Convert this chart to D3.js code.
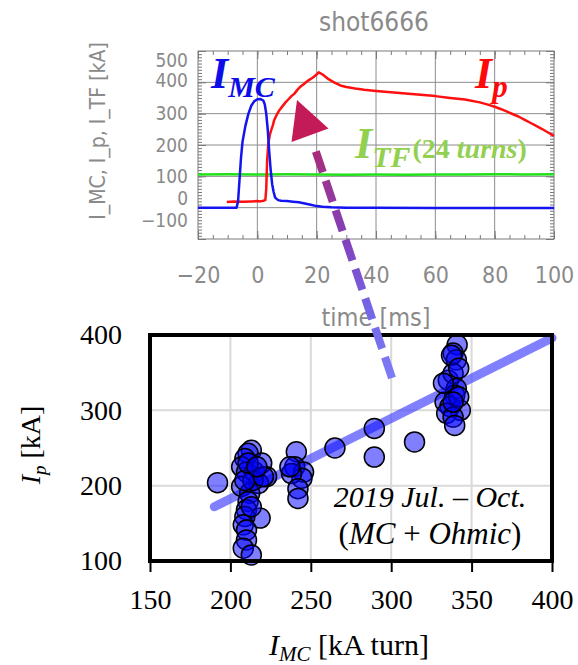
<!DOCTYPE html>
<html>
<head>
<meta charset="utf-8">
<script src="https://cdn.jsdelivr.net/npm/d3@7"></script>
<style>
  body { margin: 0; background: #fff; }
  svg { display: block; }
</style>
</head>
<body>
<script>
// ---- top panel: waveforms of shot 6666 ----
var tMC = [-20, -10, -7, -6.5, -6, -5.5, -5, -4, -3, -2, -1, 0, 1, 2, 2.5, 3, 3.5, 4, 4.5, 5, 5.5, 6, 7, 8, 10, 12, 14, 16, 18, 20, 22, 25, 30, 40, 60, 80, 100];
var vMC = [0, 0, 0, 20, 90, 160, 210, 262, 300, 326, 340, 346, 347, 342, 330, 300, 250, 180, 120, 75, 50, 32, 24, 22, 21, 19, 17, 13, 9, 5, 3, 1, 0, 0, -1, -1, -1];

var tIp = [-10.3, -8, -5, -2, 0, 1, 2, 2.7, 3, 3.3, 3.7, 4.2, 4.7, 5.2, 5.7, 6.5, 7.5, 8.5, 9.5, 10.5, 11.5, 12.5, 13.5, 14.5, 15.5, 16.5, 17.5, 18.5, 19.5, 20.7, 22, 24, 26, 28, 30, 33, 36, 40, 45, 50, 55, 60, 65, 70, 75, 78, 80, 82, 84, 86, 88, 90, 92, 94, 96, 98, 100];
var vIp = [18, 20, 19, 20, 21, 20, 22, 24, 60, 150, 205, 232, 248, 262, 280, 296, 312, 324, 336, 346, 356, 364, 376, 386, 393, 401, 408, 414, 421, 432, 425, 410, 399, 390, 385, 380, 376, 372, 368, 364, 360, 356, 350, 345, 336, 328, 322, 315, 307, 299, 291, 281, 271, 261, 251, 240, 229];

var tTF = [-20, -10, 0, 10, 20, 30, 40, 50, 60, 70, 80, 90, 100];
var vTF = [106, 107, 106, 107, 106, 105, 106, 105, 106, 106, 107, 106, 107];

var topXTicks = [-20, 0, 20, 40, 60, 80, 100];
var topYTicks = [-100, 0, 100, 200, 300, 400, 500];

// ---- bottom panel: Ip vs IMC, 2019 Jul. - Oct. ----
var imc = [192, 213, 211, 209, 207, 210, 215, 219.5, 222.5, 217.5, 207, 212, 211, 210, 218.5, 209, 208, 210, 210, 208, 213, 214, 209, 220.5, 211, 216.5, 213,
           241, 240, 245.5, 244.5, 238, 242, 242, 237,
           341, 338.5, 340.5, 337.5, 335.5, 338.5, 340.5, 339.5, 333.5, 336.5, 343, 334.5, 338.5, 339.5, 342, 342, 332.5, 338.5,
           265, 289.5, 289.5, 314.5];
var ipv = [204, 247, 243, 236, 225, 218, 218, 230, 212, 203, 199, 190, 179, 168, 157, 159, 148, 141, 128, 117, 108, 207, 207, 212, 230, 225, 172,
           245, 225, 218, 210, 216, 196, 183, 225,
           387, 376, 367, 373, 340, 349, 329, 320, 311, 305, 300, 296, 291, 280, 318, 356, 336, 311,
           250, 276, 238, 258];
var fitX = [190, 400];
var fitY = [172, 396];

var botXTicks = [150, 200, 250, 300, 350, 400];
var botYTicks = [100, 200, 300, 400];

var W = 578, H = 665;
var svg = d3.select("body").append("svg").attr("width", W).attr("height", H);

var grayTxt = "#8a8a8a", grayLine = "#7a7a7a";
var sansFont = "'DejaVu Sans Condensed', 'DejaVu Sans', 'Liberation Sans', sans-serif";
var serifFont = "'Liberation Serif', 'Times New Roman', 'DejaVu Serif', serif";

// scales
var x1 = d3.scaleLinear().domain([-20, 100]).range([198, 554]);
var y1 = d3.scaleLinear().domain([-100, 500]).range([239, 51]);
var x2 = d3.scaleLinear().domain([150, 400]).range([150, 552]);
var y2 = d3.scaleLinear().domain([100, 400]).range([561, 335]);

// ================= top panel =================
var topG = svg.append("g");

// grid
topG.append("g").selectAll("line").data(topXTicks.slice(1, -1)).enter().append("line")
    .attr("x1", function(d) { return x1(d); }).attr("x2", function(d) { return x1(d); })
    .attr("y1", y1(500)).attr("y2", y1(-100))
    .attr("stroke", "#8c8c8c").attr("stroke-width", 1);
topG.append("g").selectAll("line").data(topYTicks.slice(1, -1)).enter().append("line")
    .attr("x1", x1(-20)).attr("x2", x1(100))
    .attr("y1", function(d) { return y1(d); }).attr("y2", function(d) { return y1(d); })
    .attr("stroke", "#8c8c8c").attr("stroke-width", 1);

// minor + major ticks (inside the frame)
function styleAxis(g) {
  g.select(".domain").remove();
  g.selectAll(".tick line").attr("stroke", grayLine).attr("stroke-width", 1);
}
topG.append("g").attr("transform", "translate(0," + y1(-100) + ")")
    .call(d3.axisBottom(x1).tickValues(d3.range(-20, 101, 5)).tickSize(-4).tickFormat(""))
    .call(styleAxis);
topG.append("g").attr("transform", "translate(0," + y1(500) + ")")
    .call(d3.axisTop(x1).tickValues(d3.range(-20, 101, 5)).tickSize(-4).tickFormat(""))
    .call(styleAxis);
topG.append("g").attr("transform", "translate(" + x1(-20) + ",0)")
    .call(d3.axisLeft(y1).tickValues(d3.range(-100, 501, 10)).tickSize(-4).tickFormat(""))
    .call(styleAxis);
topG.append("g").attr("transform", "translate(" + x1(100) + ",0)")
    .call(d3.axisRight(y1).tickValues(d3.range(-100, 501, 10)).tickSize(-4).tickFormat(""))
    .call(styleAxis);

var minusFmt = function(d) { return d < 0 ? "\u2212" + Math.abs(d) : String(d); };

var xa = topG.append("g").attr("transform", "translate(0," + y1(-100) + ")")
    .call(d3.axisBottom(x1).tickValues(topXTicks).tickSize(-8).tickPadding(28).tickFormat(minusFmt))
    .call(styleAxis);
xa.selectAll("text").attr("font-family", sansFont).attr("font-size", 23)
    .attr("fill", grayTxt).attr("font-weight", 300);
topG.append("g").attr("transform", "translate(0," + y1(500) + ")")
    .call(d3.axisTop(x1).tickValues(topXTicks).tickSize(-8).tickFormat(""))
    .call(styleAxis);

// IDL squeezes the end labels inward
var yLabelShift = {"-100": -19, "0": -9, "100": 0, "200": 0, "300": 0, "400": -2, "500": 9};
var ya = topG.append("g").attr("transform", "translate(" + x1(-20) + ",0)")
    .call(d3.axisLeft(y1).tickValues(topYTicks).tickSize(-8).tickPadding(10).tickFormat(minusFmt))
    .call(styleAxis);
ya.selectAll("text").attr("font-family", sansFont).attr("font-size", 19)
    .attr("fill", grayTxt).attr("font-weight", 300)
    .attr("y", function(d) { return yLabelShift[String(d)]; });
topG.append("g").attr("transform", "translate(" + x1(100) + ",0)")
    .call(d3.axisRight(y1).tickValues(topYTicks).tickSize(-8).tickFormat(""))
    .call(styleAxis);

// frame
topG.append("rect").attr("x", x1(-20)).attr("y", y1(500))
    .attr("width", x1(100) - x1(-20)).attr("height", y1(-100) - y1(500))
    .attr("fill", "none").attr("stroke", grayLine).attr("stroke-width", 1);

// titles
topG.append("text").attr("x", 374).attr("y", 31).attr("text-anchor", "middle")
    .attr("font-family", sansFont).attr("font-size", 26).attr("font-weight", 300)
    .attr("fill", grayTxt).text("shot6666");
topG.append("text").attr("x", 376).attr("y", 326).attr("text-anchor", "middle")
    .attr("font-family", sansFont).attr("font-size", 25).attr("font-weight", 300)
    .attr("fill", grayTxt).text("time [ms]");
topG.append("text").attr("transform", "translate(105,131) rotate(-90)").attr("text-anchor", "middle")
    .attr("font-family", sansFont).attr("font-size", 21).attr("font-weight", 300)
    .attr("fill", grayTxt).text("I_MC, I_p, I_TF [kA]");

// curves
var wave = d3.line().x(function(d) { return x1(d[0]); }).y(function(d) { return y1(d[1]); });
topG.append("path").datum(d3.zip(tTF, vTF)).attr("d", wave)
    .attr("fill", "none").attr("stroke", "#22e01c").attr("stroke-width", 2.5);
topG.append("path").datum(d3.zip(tIp, vIp)).attr("d", wave)
    .attr("fill", "none").attr("stroke", "#ff1010").attr("stroke-width", 2.5).attr("stroke-linejoin", "round");
topG.append("path").datum(d3.zip(tMC, vMC)).attr("d", wave)
    .attr("fill", "none").attr("stroke", "#1414f0").attr("stroke-width", 2.5).attr("stroke-linejoin", "round");

// curve labels
function subLabel(x, y, main, sub, color, mainSize, subSize) {
  var t = topG.append("text").attr("x", x).attr("y", y)
      .attr("font-family", serifFont).attr("font-weight", "bold").attr("font-style", "italic")
      .attr("fill", color).attr("font-size", mainSize);
  t.append("tspan").text(main);
  t.append("tspan").attr("font-size", subSize).attr("dy", 9).text(sub);
  return t;
}
subLabel(211, 88, "I", "MC", "#0d0de8", 44, 30);
subLabel(475, 88, "I", "p", "#ff0a0a", 44, 31);
var tf = subLabel(355, 158, "I", "TF", "#92d050", 44, 30);
tf.append("tspan").attr("font-size", 28).attr("dy", -9).attr("dx", 2).attr("font-style", "normal").text("(24 ");
tf.append("tspan").attr("font-size", 28).text("turns");
tf.append("tspan").attr("font-size", 28).attr("font-style", "normal").text(")");

// ================= bottom panel =================
var botG = svg.append("g");

botG.append("g").selectAll("line").data(botXTicks.slice(1, -1)).enter().append("line")
    .attr("x1", function(d) { return x2(d); }).attr("x2", function(d) { return x2(d); })
    .attr("y1", y2(400)).attr("y2", y2(100))
    .attr("stroke", "#d9d9d9").attr("stroke-width", 2);
botG.append("g").selectAll("line").data(botYTicks.slice(1, -1)).enter().append("line")
    .attr("x1", x2(150)).attr("x2", x2(400))
    .attr("y1", function(d) { return y2(d); }).attr("y2", function(d) { return y2(d); })
    .attr("stroke", "#d9d9d9").attr("stroke-width", 2);

// fit line
botG.append("line")
    .attr("x1", x2(fitX[0])).attr("y1", y2(fitY[0]))
    .attr("x2", x2(fitX[1])).attr("y2", y2(fitY[1]))
    .attr("stroke", "#4a4aff").attr("stroke-opacity", 0.7)
    .attr("stroke-width", 9).attr("stroke-linecap", "round");

// points
botG.append("g").selectAll("circle").data(d3.zip(imc, ipv)).enter().append("circle")
    .attr("cx", function(d) { return x2(d[0]); })
    .attr("cy", function(d) { return y2(d[1]); })
    .attr("r", 10)
    .attr("fill", "#0000ff").attr("fill-opacity", 0.5)
    .attr("stroke", "#000").attr("stroke-width", 1.5);

// frame
botG.append("rect").attr("x", x2(150)).attr("y", y2(400))
    .attr("width", x2(400) - x2(150)).attr("height", y2(100) - y2(400))
    .attr("fill", "none").attr("stroke", "#000").attr("stroke-width", 4);

var bx = botG.append("g").attr("transform", "translate(0," + y2(100) + ")")
    .call(d3.axisBottom(x2).tickValues(botXTicks).tickSize(11).tickPadding(17));
bx.select(".domain").remove();
bx.selectAll(".tick line").attr("stroke", "#000").attr("stroke-width", 2);
bx.selectAll("text").attr("font-family", serifFont).attr("font-size", 28).attr("fill", "#000");

var by = botG.append("g").attr("transform", "translate(" + x2(150) + ",0)")
    .call(d3.axisLeft(y2).tickValues(botYTicks).tickSize(0).tickPadding(28));
by.select(".domain").remove();
by.selectAll("text").attr("font-family", serifFont).attr("font-size", 28).attr("fill", "#000");

// axis titles
var xt = botG.append("text").attr("x", 349).attr("y", 655).attr("text-anchor", "middle")
    .attr("font-family", serifFont).attr("font-size", 30).attr("fill", "#000");
xt.append("tspan").attr("font-style", "italic").text("I");
xt.append("tspan").attr("font-style", "italic").attr("font-size", 21).attr("dy", 6).text("MC");
xt.append("tspan").attr("dy", -6).text(" [kA turn]");

var yt = botG.append("text").attr("transform", "translate(40,445) rotate(-90)").attr("text-anchor", "middle")
    .attr("font-family", serifFont).attr("font-size", 28).attr("fill", "#000");
yt.append("tspan").attr("font-style", "italic").text("I");
yt.append("tspan").attr("font-style", "italic").attr("font-size", 19).attr("dy", 6).text("p");
yt.append("tspan").attr("dy", -6).text(" [kA]");

// campaign note
botG.append("text").attr("x", 430).attr("y", 507).attr("text-anchor", "middle")
    .attr("font-family", serifFont).attr("font-size", 30).attr("font-style", "italic")
    .text("2019 Jul. \u2013 Oct.");
var note = botG.append("text").attr("x", 430).attr("y", 544).attr("text-anchor", "middle")
    .attr("font-family", serifFont).attr("font-size", 31);
note.append("tspan").text("(");
note.append("tspan").attr("font-style", "italic").text("MC");
note.append("tspan").text(" + ");
note.append("tspan").attr("font-style", "italic").text("Ohmic");
note.append("tspan").text(")");

// ================= arrow linking the panels =================
var defs = svg.append("defs");
var grad = defs.append("linearGradient").attr("id", "arrowGrad")
    .attr("gradientUnits", "userSpaceOnUse")
    .attr("x1", 392).attr("y1", 378).attr("x2", 297).attr("y2", 100);
[[0, "#7c7cf7"], [0.25, "#7466e6"], [0.5, "#8340bb"], [0.72, "#9a3590"], [0.88, "#b5226a"], [1, "#c8185a"]]
  .forEach(function(s) { grad.append("stop").attr("offset", s[0]).attr("stop-color", s[1]); });

svg.append("line").attr("x1", 392).attr("y1", 378).attr("x2", 313).attr("y2", 143)
    .attr("stroke", "url(#arrowGrad)").attr("stroke-width", 8)
    .attr("stroke-dasharray", "22,9");
svg.append("path").attr("d", "M297,100 L291.5,142 L328.5,128.5 Z").attr("fill", "#c31b57");
</script>
</body>
